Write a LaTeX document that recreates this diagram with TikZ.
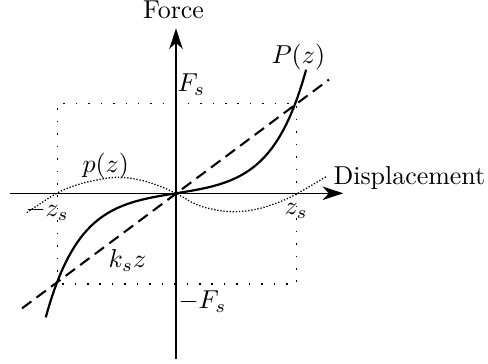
\documentclass[tikz,border=0pt]{standalone}
\usetikzlibrary{arrows.meta}
\begin{document}
\begin{tikzpicture}[x=0.386pt,y=-0.386pt,
  axis/.style={line width=0.6pt,-{Stealth[length=8pt,width=5.2pt,inset=2.4pt]}},
  curve/.style={line width=0.85pt},
  lin/.style={line width=0.8pt,dash pattern=on 4.5pt off 2.5pt},
  guide/.style={line width=0.6pt,dash pattern=on 0.6pt off 4.2pt},
  diff/.style={line width=0.5pt,dash pattern=on 0.5pt off 0.7pt},
  lbl/.style={inner sep=0pt,anchor=base west}]
\useasboundingbox (0,0) rectangle (488,364);
% key points
\coordinate (O) at (176,193.3);
\coordinate (xl) at (10,193.3);
\coordinate (xr) at (343.3,193.3);
\coordinate (yb) at (176,359.3);
\coordinate (yt) at (176,28.3);
\coordinate (ll) at (57.5,284);
\coordinate (ur) at (296.5,103.3);
\coordinate (dl) at (22,308.4);
\coordinate (du) at (329,79.6);
% guide rectangle
\draw[guide] (ll) rectangle (ur);
% axes
\draw[axis] (xl) -- (xr);
\draw[axis] (yb) -- (yt);
% linear k_s z
\draw[lin] (dl) -- (du);
% P(z)
\draw[curve] plot[domain=-1.09:1.09,samples=121,variable=\u]
  ({176+119.5*\u},{193.3-90.5*sinh(3.5*\u)/16.5426});
% p(z)
\draw[diff] plot[smooth,tension=0.6] coordinates {
  (26.7,212.7) (56.7,193.3) (76.7,185) (96.7,180) (116.7,177.3)
  (136.7,179.3) (156.7,185) (176,193.3) (196,204.3) (216,210)
  (236,211.7) (256,209.3) (276,203.3) (296,194.3) (326,176.7)};
% labels
\node[inner sep=0pt,anchor=base] (force) at (173.5,18.3) {Force};
\node[lbl] (disp) at (333,185) {Displacement};
\node[lbl] (Pz) at (271,63) {$P(z)$};
\node[lbl] (Fs) at (177,92) {$F_s$};
\node[lbl] (mFs) at (178,308.3) {$-F_s$};
\node[lbl] (mzs) at (25,217) {$-z_s$};
\node[lbl] (zs) at (284,215) {$z_s$};
\node[lbl] (pz) at (82,172.5) {$p(z)$};
\node[lbl] (ksz) at (108,267.3) {$k_s z$};
\end{tikzpicture}
\end{document}
